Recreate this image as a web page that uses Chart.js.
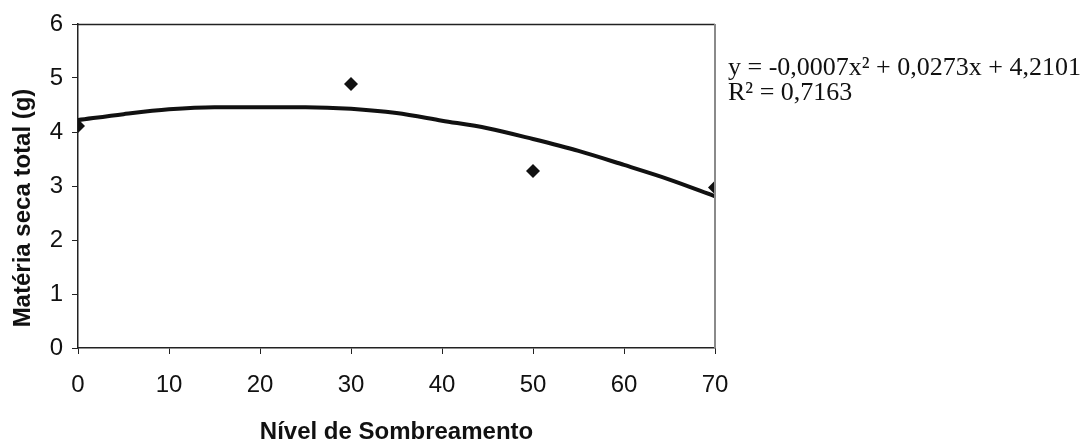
<!DOCTYPE html>
<html>
<head>
<meta charset="utf-8">
<script src="https://cdn.jsdelivr.net/npm/chart.js@4/dist/chart.umd.min.js"></script>
<style>
  html, body { margin: 0; padding: 0; background: #fff; }
  #myChart { display: block; width: 1086px; height: 447px; }
</style>
</head>
<body>
<canvas id="myChart" width="1086" height="447"></canvas>
<script>
// observed points
var sombra = [0, 30, 50, 70];
var materiaSeca = [4.11, 4.89, 3.28, 2.97];

// trend line
var trendX = [0, 5, 10, 15, 20, 25, 30, 35, 40, 45, 50, 55, 60, 65, 70];
var trendY = [4.22, 4.33, 4.42, 4.46, 4.46, 4.46, 4.43, 4.35, 4.21, 4.07, 3.87, 3.65, 3.39, 3.12, 2.81];

var xTicks = [0, 10, 20, 30, 40, 50, 60, 70];
var yTicks = [0, 1, 2, 3, 4, 5, 6];

var tituloY = 'Matéria seca total (g)';
var equacao = ["y = -0,0007x\u00b2 + 0,0273x + 4,2101", "R\u00b2 = 0,7163"];

var sans = "'Liberation Sans', Arial, sans-serif";

var pontos = sombra.map(function(x, i){ return {x: x, y: materiaSeca[i]}; });
var tendencia = trendX.map(function(x, i){ return {x: x, y: trendY[i]}; });

var frame = {
    id: 'frame',
    afterDraw: function(chart){
        var a = chart.chartArea, c = chart.ctx;
        c.save();
        c.lineWidth = 1.5;
        c.strokeStyle = '#222';
        c.beginPath();
        c.moveTo(a.left, a.top + 0.5);
        c.lineTo(a.right, a.top + 0.5);
        c.stroke();
        c.strokeStyle = '#8a8a8a';
        c.lineWidth = 2;
        c.beginPath();
        c.moveTo(a.right, a.top);
        c.lineTo(a.right, a.bottom);
        c.stroke();

        // y title sits a bit below the middle of the axis in the original
        c.save();
        c.translate(23, 208);
        c.rotate(-Math.PI / 2);
        c.fillStyle = '#111';
        c.font = "bold 24px " + sans;
        c.textAlign = 'center';
        c.textBaseline = 'middle';
        c.fillText(tituloY, 0, 0);
        c.restore();

        c.fillStyle = '#111';
        c.font = "26px 'Liberation Serif', 'Times New Roman', serif";
        c.textBaseline = 'alphabetic';
        c.fillText(equacao[0], 728, 75);
        c.fillText(equacao[1], 728, 100);
        c.restore();
    }
};

var ctx = document.getElementById("myChart");
var myChart = new Chart(ctx, {
    type: 'scatter',
    data: {
        datasets: [{
            label: 'Tendência',
            type: 'line',
            data: tendencia,
            borderColor: '#111',
            borderWidth: 4,
            pointRadius: 0,
            cubicInterpolationMode: 'monotone',
            fill: false,
            order: 2
        }, {
            label: 'Matéria seca',
            data: pontos,
            pointStyle: 'rectRot',
            pointRadius: 7,
            backgroundColor: '#111',
            borderColor: '#111',
            borderWidth: 0,
            order: 1
        }]
    },
    options: {
        responsive: false,
        animation: false,
        layout: { padding: { left: 0, right: 371, top: 24, bottom: 0 } },
        plugins: {
            legend: { display: false },
            tooltip: { enabled: false }
        },
        scales: {
            x: {
                type: 'linear',
                min: 0, max: 70,
                afterBuildTicks: function(s){ s.ticks = xTicks.map(function(v){ return {value: v}; }); },
                afterFit: function(s){ s.height = 99; },
                grid: { drawOnChartArea: false, tickLength: 6, color: '#222' },
                border: { color: '#222', width: 1.5 },
                ticks: { color: '#111', padding: 17, font: { family: sans, size: 24 } },
                title: {
                    display: true,
                    text: 'Nível de Sombreamento',
                    color: '#111',
                    font: { family: sans, size: 24, weight: 'bold' },
                    padding: { top: 0, bottom: 0 }
                }
            },
            y: {
                min: 0, max: 6,
                afterBuildTicks: function(s){ s.ticks = yTicks.map(function(v){ return {value: v}; }); },
                afterFit: function(s){ s.width = 78; },
                grid: { drawOnChartArea: false, tickLength: 6, color: '#222' },
                border: { color: '#222', width: 1.5 },
                ticks: { color: '#111', padding: 9, font: { family: sans, size: 24 } },
                title: { display: false }
            }
        }
    },
    plugins: [frame]
});
</script>
</body>
</html>
